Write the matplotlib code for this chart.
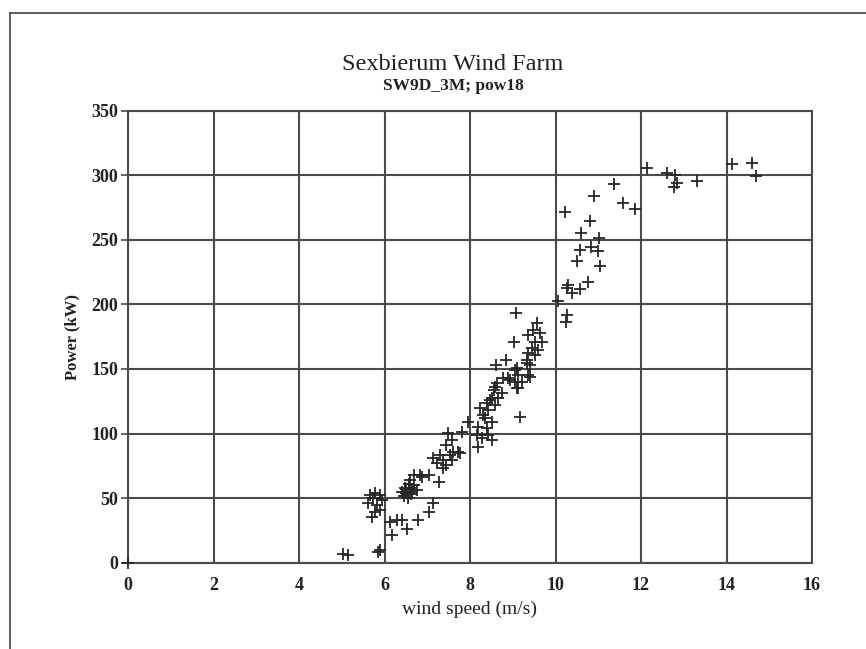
import matplotlib
matplotlib.use("Agg")
import matplotlib.pyplot as plt
from matplotlib.lines import Line2D

# Measured 10-minute averages: wind speed (m/s) and electrical power (kW)
wind_speed = [
    0.00, 5.02, 5.15, 5.85, 5.90, 6.17, 6.52, 6.13, 6.29, 6.40, 6.79,
    5.78, 5.89, 5.70, 7.04, 7.14, 5.66, 5.78, 5.90, 5.93, 5.62, 5.82, 5.72,
    6.40, 6.50, 6.55, 6.60, 6.65, 6.70, 6.45, 6.55, 6.62, 6.75, 6.50, 6.58,
    6.48, 6.87, 6.68, 6.83, 7.03, 7.28, 6.60,
    7.30, 7.53, 7.14, 7.38, 7.57, 7.22, 7.45, 7.38, 7.61, 7.72, 7.45, 7.57,
    7.49, 7.81, 7.96, 8.19, 8.39, 8.16, 8.43, 8.27, 8.51, 8.19, 7.77,
    8.35, 8.51, 8.31, 8.43, 8.23, 8.58, 8.39, 8.51, 8.66, 8.47, 8.74, 8.55,
    8.62, 8.58, 9.09, 9.21, 9.05, 8.94, 8.78, 9.40, 9.13, 9.05, 9.40, 8.61,
    8.84, 9.33, 9.52, 9.36, 9.59, 9.44, 9.68, 9.52, 9.03, 9.36, 9.63, 9.48,
    9.57, 9.07, 9.17, 9.09, 9.33, 9.36, 8.89, 9.13,
    10.05, 10.26, 10.25, 10.30, 10.26, 10.38, 10.57, 10.75, 11.04, 10.50,
    11.00, 10.83, 10.57, 11.02, 10.60, 10.81, 10.22, 10.90, 11.38, 11.57,
    11.86, 12.15, 12.60, 12.80, 12.85, 12.77, 13.32, 14.12, 14.59, 14.68,
]
power_kw = [
    0.0, 7.0, 6.0, 8.5, 10.0, 21.4, 25.9, 31.7, 33.1, 33.1, 33.1,
    39.5, 40.8, 35.6, 39.5, 46.0, 52.4, 53.7, 52.4, 48.5, 46.0, 44.7, 50.0,
    55.0, 57.0, 53.0, 58.0, 55.0, 60.0, 52.0, 50.0, 53.0, 56.0, 54.0, 61.0,
    58.0, 66.0, 67.9, 67.9, 67.9, 62.7, 64.0,
    83.4, 83.4, 80.8, 79.5, 79.5, 77.0, 75.6, 73.1, 86.0, 86.0, 91.1, 95.0,
    100.2, 101.4, 109.2, 105.3, 104.1, 98.9, 98.9, 96.3, 95.0, 89.8, 85.2,
    111.8, 109.2, 114.4, 118.2, 119.6, 122.1, 123.4, 127.3, 127.3, 126.0, 131.2, 133.7,
    138.9, 136.3, 135.0, 140.2, 140.2, 141.5, 142.7, 143.5, 145.3, 149.2, 153.1, 153.1,
    157.0, 157.0, 160.8, 162.1, 164.7, 166.0, 171.1, 171.1, 171.1, 176.3, 177.6, 180.2,
    185.4, 193.1, 112.5, 150.5, 154.4, 145.3, 142.8, 135.0,
    202.9, 191.8, 186.0, 215.1, 212.5, 208.6, 211.7, 217.6, 229.8, 233.9,
    241.6, 244.2, 242.1, 251.2, 255.6, 264.6, 271.3, 284.2, 293.5, 278.3,
    273.8, 305.9, 301.5, 300.2, 293.8, 290.7, 295.6, 308.7, 309.7, 299.4,
]

x_ticks = [0, 2, 4, 6, 8, 10, 12, 14, 16]
y_ticks = [0, 50, 100, 150, 200, 250, 300, 350]

title = "Sexbierum Wind Farm"
subtitle = "SW9D_3M; pow18"
x_label = "wind speed (m/s)"
y_label = "Power (kW)"

serif = ["Liberation Serif", "DejaVu Serif"]
grid_color = "#4a4a4a"
text_color = "#222222"

fig = plt.figure(figsize=(8.66, 6.49), dpi=100)
fig.patch.set_facecolor("white")

# page frame around the plot
fig.add_artist(Line2D([10 / 866, 1.0], [1 - 13 / 649, 1 - 13 / 649],
                      transform=fig.transFigure, color="#555555", lw=1.3))
fig.add_artist(Line2D([10 / 866, 10 / 866], [0.0, 1 - 13 / 649],
                      transform=fig.transFigure, color="#555555", lw=1.3))

ax = fig.add_axes([128 / 866, 1 - 562.7 / 649, 684 / 866, 452 / 649])
ax.set_xlim(0, 16)
ax.set_ylim(0, 350)
ax.set_xticks(x_ticks)
ax.set_yticks(y_ticks)
ax.grid(True, color=grid_color, lw=1.5)
ax.set_axisbelow(True)
for s in ax.spines.values():
    s.set_color(grid_color)
    s.set_linewidth(1.5)

ax.plot(wind_speed, power_kw, linestyle="none", marker="+", markersize=9,
        markeredgewidth=1.3, color="#262626", clip_on=False, zorder=3)

ax.tick_params(axis="y", direction="out", length=5, width=1.2, color=grid_color, pad=2)
ax.tick_params(axis="x", direction="out", length=0, pad=10)
for lab in ax.get_xticklabels() + ax.get_yticklabels():
    lab.set_fontfamily(serif)
    lab.set_fontweight("bold")
    lab.set_fontsize(13)
    lab.set_color(text_color)

ax.set_xlabel(x_label, fontfamily=serif, fontsize=14, color=text_color, labelpad=5)
ax.set_ylabel(y_label, fontfamily=serif, fontsize=12, fontweight="bold",
              color=text_color, labelpad=8)

fig.text(453 / 866, 1 - 65 / 649, title, ha="center", va="center",
         fontfamily=serif, fontsize=17.5, color=text_color)
fig.text(453 / 866, 1 - 86 / 649, subtitle, ha="center", va="center",
         fontfamily=serif, fontsize=12.5, fontweight="bold", color=text_color)

fig.savefig("out.png", dpi=100, facecolor="white")
